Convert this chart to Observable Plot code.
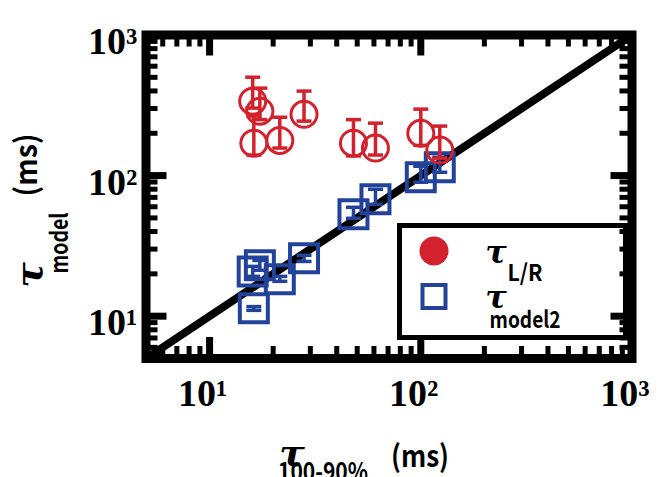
<!DOCTYPE html>
<html><head><meta charset="utf-8">
<script src="https://cdn.jsdelivr.net/npm/d3@7"></script>
<script src="https://cdn.jsdelivr.net/npm/@observablehq/plot@0.6"></script>
<style>
html,body{margin:0;padding:0;background:#fff;}
#chart{width:657px;height:477px;overflow:hidden;}
</style>
</head><body><div id="chart"></div>
<script>
// measured tau(100-90%) in ms (x values)
const tau100 = [16, 16.2, 17.3, 21.5, 28, 48, 61, 100, 123];
// tau L/R (red circles) with error bar ends
const tauLR     = [338, 170, 287, 178, 273, 170, 157, 200, 152];
const tauLRLow  = [302, 140, 250, 157, 244, 138, 140, 164, 133];
const tauLRHigh = [501, 265, 419, 260, 399, 250, 236, 297, 225];
// tau model2 (blue squares) with error bar ends
const tauM2     = [20.8, 11.4, 23.0, 18.3, 25.8, 53.0, 67.8, 97.3, 114.7];
const tauM2Low  = [19.2, 11.0, 21.2, 17.7, 24.5, 49.7, 62.5, 89.7, 105.6];
const tauM2High = [22.6, 11.7, 24.9, 19.2, 27.1, 59.5, 79.9, 116.5, 135];
// identity line
const diagonal = [5, 1000];
// ticks
const majorTicks = [10, 100, 1000];
const majorLabels = ["10\u00B9", "10\u00B2", "10\u00B3"];
const minorTicks = [6, 7, 8, 9, 20, 30, 40, 50, 60, 70, 80, 90, 200, 300, 400, 500, 600, 700, 800, 900];

const RED = "#d3212d", BLUE = "#23439b";
const W = 657, H = 477, ML = 145.5, MR = 25.5, MT = 34.5, MB = 119;
const innerW = W - ML - MR, innerH = H - MT - MB;
const MAJ = 21, MIN = 12;

const capSymbol = {draw(ctx, size) { const r = Math.sqrt(size / Math.PI); ctx.moveTo(-r, 0); ctx.lineTo(r, 0); }};
const squareSymbol = {draw(ctx, size) { const r = Math.sqrt(size / Math.PI); ctx.rect(-r, -r, 2 * r, 2 * r); }};

const tickFont = {fontFamily: "Liberation Serif", fontWeight: "bold", fontSize: 38, fill: "black"};

const plot = Plot.plot({
  width: W, height: H,
  marginLeft: ML, marginRight: MR, marginTop: MT, marginBottom: MB,
  x: {type: "log", domain: [5, 1000], axis: null},
  y: {type: "log", domain: [5, 1000], axis: null},
  style: {background: "white", overflow: "visible"},
  marks: [
    Plot.frame({stroke: "black", strokeWidth: 9}),
    // minor ticks (inward, all four sides)
    Plot.ruleX(minorTicks, {x: d => d, insetTop: innerH - MIN, strokeWidth: 5, stroke: "black"}),
    Plot.ruleX(minorTicks, {x: d => d, insetBottom: innerH - MIN, strokeWidth: 5, stroke: "black"}),
    Plot.ruleY(minorTicks, {y: d => d, insetRight: innerW - MIN, strokeWidth: 5, stroke: "black"}),
    Plot.ruleY(minorTicks, {y: d => d, insetLeft: innerW - MIN, strokeWidth: 5, stroke: "black"}),
    // major ticks
    Plot.ruleX(majorTicks, {x: d => d, insetTop: innerH - MAJ, strokeWidth: 7, stroke: "black"}),
    Plot.ruleX(majorTicks, {x: d => d, insetBottom: innerH - MAJ, strokeWidth: 7, stroke: "black"}),
    Plot.ruleY(majorTicks, {y: d => d, insetRight: innerW - MAJ, strokeWidth: 7, stroke: "black"}),
    Plot.ruleY(majorTicks, {y: d => d, insetLeft: innerW - MAJ, strokeWidth: 7, stroke: "black"}),
    // tick labels
    Plot.text(majorTicks, {x: d => d, text: majorLabels, frameAnchor: "bottom", lineAnchor: "top", dy: 21, dx: -7, textAnchor: "middle", ...tickFont}),
    Plot.text(majorTicks, {y: d => d, text: majorLabels, frameAnchor: "left", lineAnchor: "middle", dy: 7, dx: -8.5, textAnchor: "end", ...tickFont}),
    // identity line
    Plot.line(diagonal, {x: d => d, y: d => d, stroke: "black", strokeWidth: 8, strokeLinecap: "butt"}),
    // model2 squares
    Plot.ruleX(tau100, {x: tau100, y1: tauM2Low, y2: tauM2High, stroke: BLUE, strokeWidth: 3.5}),
    Plot.dot(tau100, {x: tau100, y: tauM2Low, symbol: capSymbol, r: 7.5, stroke: BLUE, strokeWidth: 3.5, fill: "none"}),
    Plot.dot(tau100, {x: tau100, y: tauM2High, symbol: capSymbol, r: 7.5, stroke: BLUE, strokeWidth: 3.5, fill: "none"}),
    Plot.dot(tau100, {x: tau100, y: tauM2, symbol: squareSymbol, r: 14, stroke: BLUE, strokeWidth: 4, fill: "none"}),
    // L/R circles
    Plot.ruleX(tau100, {x: tau100, y1: tauLRLow, y2: tauLRHigh, stroke: RED, strokeWidth: 3.5}),
    Plot.dot(tau100, {x: tau100, y: tauLRLow, symbol: capSymbol, r: 7.5, stroke: RED, strokeWidth: 3.5, fill: "none"}),
    Plot.dot(tau100, {x: tau100, y: tauLRHigh, symbol: capSymbol, r: 7.5, stroke: RED, strokeWidth: 3.5, fill: "none"}),
    Plot.dot(tau100, {x: tau100, y: tauLR, r: 13, stroke: RED, strokeWidth: 3, fill: "none"})
  ]
});

document.getElementById("chart").appendChild(plot);
const svg = d3.select(plot);

const tauFont = "DejaVu Serif";
const subFont = "'Noto Sans CJK JP', 'Noto Sans', sans-serif";
function tau(g, x, y, size, transform) {
  const t = g.append("text").attr("font-family", tauFont).attr("font-style", "italic")
    .attr("font-weight", "bold").attr("font-size", size).text("\u03C4");
  if (transform) t.attr("transform", transform); else t.attr("x", x).attr("y", y);
  return t;
}
function sub(g, x, y, size, len, txt, weight, transform) {
  const t = g.append("text").attr("font-family", subFont).attr("font-weight", weight || "bold")
    .attr("font-size", size).attr("textLength", len).attr("lengthAdjust", "spacingAndGlyphs").text(txt);
  if (transform) t.attr("transform", transform); else t.attr("x", x).attr("y", y);
  return t;
}

// legend (drawn just above the frame, below the ticks)
const frameNode = plot.querySelector('[aria-label="frame"]');
const lg = d3.create("svg:g").attr("class", "legend");
lg.append("rect").attr("x", 399.5).attr("y", 225.5).attr("width", 226).attr("height", 112)
  .attr("fill", "white").attr("stroke", "black").attr("stroke-width", 5);
lg.append("circle").attr("cx", 434).attr("cy", 251).attr("r", 14.5).attr("fill", RED);
lg.append("rect").attr("x", 422.5).attr("y", 285).attr("width", 23).attr("height", 23)
  .attr("fill", "none").attr("stroke", BLUE).attr("stroke-width", 4);
tau(lg, 496, 263, 32);
sub(lg, 525, 281, 23, 35, "L/R");
tau(lg, 496, 308, 32);
sub(lg, 525, 328, 23, 71, "model2");
frameNode.after(lg.node());

// x axis title
const xt = svg.append("g").attr("class", "x-title");
tau(xt, 292, 466, 38);
sub(xt, 323, 481, 26, 90, "100-90%");
sub(xt, 420, 467, 30, 58, "(ms)");

// y axis title (rotated)
const yt = svg.append("g").attr("class", "y-title");
tau(yt, 0, 0, 38, "translate(42,275) rotate(-90)");
sub(yt, 0, 0, 24, 61, "model", "bold", "translate(68,243) rotate(-90)");
sub(yt, 0, 0, 30, 63, "(ms)", "bold", "translate(37,165) rotate(-90)");
</script>
</body></html>
